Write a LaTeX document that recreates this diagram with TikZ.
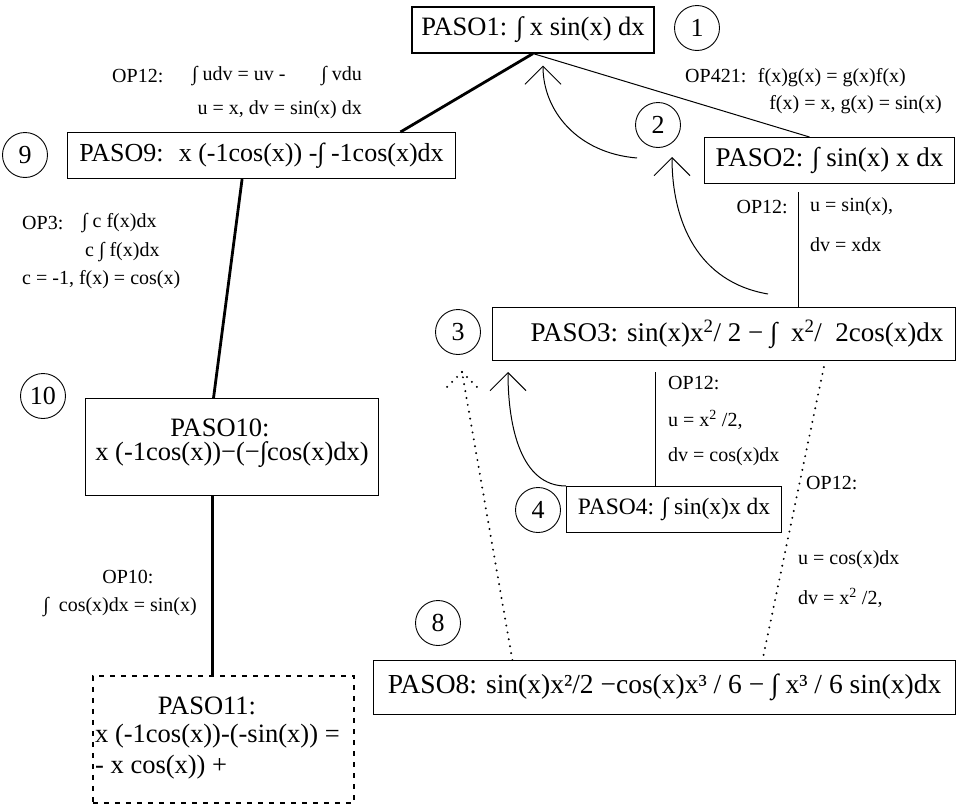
\documentclass[tikz,border=0pt]{standalone}
\usepackage{fontspec}
\setmainfont{Liberation Serif}
\usetikzlibrary{arrows.meta,calc}
\begin{document}
\begin{tikzpicture}[x=1pt,y=-1pt,
  box/.style={draw,line width=1.1pt,inner sep=0pt,font=\fontsize{26.5}{30}\selectfont},
  dotbox/.style={draw,line width=1.8pt,dash pattern=on 5pt off 6pt,inner sep=0pt},
  txt/.style={inner sep=0pt,font=\fontsize{26.5}{30}\selectfont},
  num/.style={draw,circle,line width=0.9pt,minimum size=45pt,inner sep=0pt,font=\fontsize{26}{30}\selectfont},
  lbl/.style={inner sep=0pt,anchor=west,font=\fontsize{20}{24}\selectfont},
  heavy/.style={line width=2.8pt},
  slim/.style={line width=1pt},
  dots/.style={line width=2.2pt,dash pattern=on 0pt off 7pt,line cap=round},
  back/.style={line width=1pt,-{Straight Barb[length=18pt,width=36pt,line width=1pt]}}]
\useasboundingbox (0,0) rectangle (962,806);

% top
\node[box,minimum width=242pt,minimum height=46pt] (p1) at (533,30) {PASO1: ∫ x sin(x) dx};
\node[num] (c1) at (697,28) {1};

\node[lbl] (op12a) at (112,76) {OP12:};
\node[lbl] (op12b) at (192,76) {∫ udv = uv -};
\node[lbl,anchor=east] (op12c) at (362,76) {∫ vdu};
\node[lbl,anchor=east] (op12d) at (362,110) {u = x, dv = sin(x) dx};

\node[num] (c9) at (25,155) {9};
\node[box,minimum width=388pt,minimum height=46pt,anchor=north west,font=\fontsize{26}{30}\selectfont] (p9) at (67,132) {PASO9: \ x (-1cos(x)) -∫ -1cos(x)dx};

\node[lbl] (op421a) at (685,78) {OP421: \ f(x)g(x) = g(x)f(x)};
\node[lbl,anchor=east] (op421b) at (942,105) {f(x) = x, g(x) = sin(x)};
\node[num] (c2) at (658,125) {2};
\node[box,minimum width=250pt,minimum height=46pt,anchor=north west,font=\fontsize{27}{31}\selectfont] (p2) at (704,137) {PASO2: ∫ sin(x) x dx};
\node[lbl,anchor=east] (op12e) at (788,207) {OP12:};
\node[lbl] (op12f) at (810,207) {u = sin(x),};
\node[lbl] (op12g) at (810,245) {dv = xdx};

% left column
\node[lbl] (op3a) at (22,223) {OP3:};
\node[lbl] (op3b) at (82,223) {∫ c f(x)dx};
\node[lbl] (op3c) at (85,252) {c ∫ f(x)dx};
\node[lbl] (op3d) at (22,280) {c = -1, f(x) = cos(x)};

\node[num] (c10) at (43,396) {10};
\node[box,minimum width=293pt,minimum height=97pt,anchor=north west] (p10) at (85,398) {};
\node[txt] (p10a) at (220,428) {PASO10:};
\node[txt] (p10b) at (232,455) {x (-1cos(x))−(−∫cos(x)dx)};

\node[lbl,anchor=center] (op10a) at (128,577) {OP10:};
\node[lbl,anchor=east] (op10b) at (197,607) {∫ \ cos(x)dx = sin(x)};

\node[dotbox,minimum width=261pt,minimum height=127pt,anchor=north west] (p11) at (92,675) {};
\node[txt] (p11a) at (207,706) {PASO11:};
\node[txt,anchor=west] (p11b) at (95,736) {x (-1cos(x))-(-sin(x)) =};
\node[txt,anchor=west] (p11c) at (95,767) {- x cos(x)) +};

% right column
\node[num] (c3) at (458,332) {3};
\node[box,minimum width=463pt,minimum height=53pt,anchor=north west,font=\fontsize{27}{31}\selectfont] (p3) at (492,307) {\hspace*{26pt}PASO3: sin(x)x\textsuperscript{2}/ 2 − ∫ \ x\textsuperscript{2}/ \ 2cos(x)dx};
\node[lbl] (op12h) at (668,383) {OP12:};
\node[lbl] (op12i) at (668,420) {u = x\textsuperscript{2} /2,};
\node[lbl] (op12j) at (668,457) {dv = cos(x)dx};

\node[num] (c4) at (538,510) {4};
\node[box,minimum width=215pt,minimum height=46pt,anchor=north west,font=\fontsize{23.5}{28}\selectfont] (p4) at (566,486) {PASO4: ∫ sin(x)x dx};

\node[lbl] (op12k) at (806,483) {OP12:};
\node[lbl] (op12l) at (798,560) {u = cos(x)dx};
\node[lbl] (op12m) at (798,598) {dv = x\textsuperscript{2} /2,};

\node[num] (c8) at (438,623) {8};
\node[box,minimum width=582pt,minimum height=54pt,anchor=north west,font=\fontsize{27.5}{31}\selectfont] (p8) at (373,660) {PASO8: sin(x)x²/2 −cos(x)x³ / 6 − ∫ x³ / 6 sin(x)dx};

% connectors
\draw[heavy] (p1.south) -- ($(p9.north west)!0.857!(p9.north east)$);
\draw[slim] (p1.south) -- ($(p2.north west)!0.42!(p2.north east)$);
\draw[heavy] ($(p9.south west)!0.45!(p9.south east)$) -- ($(p10.north west)!0.437!(p10.north east)$);
\coordinate (b10) at ($(p10.south west)!0.433!(p10.south east)$);
\draw[heavy] (b10) -- (b10 |- p11.north);

\coordinate (v2) at ($(p2.south west)!0.376!(p2.south east)+(0,8)$);
\draw[slim] (v2) -- (v2 |- p3.north);
\coordinate (v3) at ($(p3.south west)!0.352!(p3.south east)+(0,11)$);
\draw[slim] (v3) -- (v3 |- p4.north);

% back arrows
\coordinate (a1s) at (637,158);
\coordinate (a1e) at ($(p1.south)+(10,12)$);
\draw[back] (a1s) .. controls +(-60,-5) and +(0,45) .. (a1e);
\coordinate (a2s) at (768,294);
\coordinate (a2e) at (672,157);
\draw[back] (a2s) .. controls +(-70,-12) and +(0,65) .. (a2e);
\coordinate (a3e) at (508,372);
\draw[back] (p4.north west) .. controls +(-45,0) and +(0,55) .. (a3e);

% dotted
\coordinate (d3) at (462,372);
\coordinate (d8) at ($(p8.north west)!0.239!(p8.north east)$);
\draw[dots] (d8) -- (d3);
\draw[dots] (d3) -- +(-18,18);
\draw[dots] (d3) -- +(18,18);
\draw[dots] ($(p3.south west)!0.715!(p3.south east)+(0,6)$) -- ($(p8.north west)!0.668!(p8.north east)$);
\end{tikzpicture}
\end{document}
